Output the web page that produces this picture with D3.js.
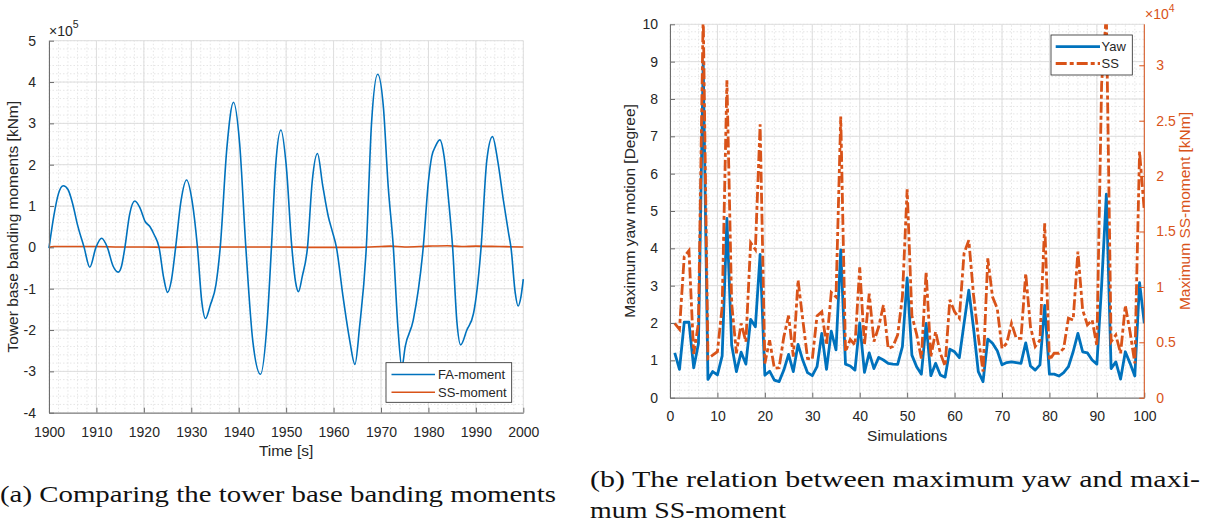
<!DOCTYPE html>
<html><head><meta charset="utf-8">
<script src="https://cdn.jsdelivr.net/npm/d3@7"></script>
<style>
body{margin:0;background:#fff}
svg text{font-family:"Liberation Sans",Arial,Helvetica,sans-serif}
</style>
</head><body>
<svg id="c" width="1211" height="529"></svg>
<script>
// ---------- Data: chart (a) ----------
const faTime = [1900,1901,1902,1903,1904,1905,1906,1907.4,1908.6,1909.9,1911.1,1912.3,1913.5,1914.6,1915.3,1916.0,1917,1918.1,1919.2,1920.3,1921.3,1922.2,1923.2,1924.2,1925.0,1925.8,1926.7,1927.8,1929.0,1930.2,1931.3,1932.2,1933.0,1934.0,1935.2,1936.1,1937.5,1938.9,1940.2,1941.5,1943.0,1944.6,1946.0,1946.9,1947.8,1948.9,1950.0,1951.2,1952.0,1952.6,1953.4,1954.5,1955.5,1956.6,1957.7,1958.9,1959.7,1960.6,1962.0,1963.4,1964.5,1965.5,1966.9,1968.0,1969.3,1970.5,1971.5,1972.6,1973.6,1974.4,1975.1,1976.8,1978.9,1980.0,1980.7,1981.5,1982.4,1983.3,1984.2,1985.1,1986.0,1986.8,1988.1,1989.5,1991.1,1992.3,1993.5,1994.6,1995.8,1996.9,1997.4,1998.3,1998.9,1999.5,2000];
const faMoment = [-0.02,0.75,1.3,1.49,1.4,1.05,0.55,0,-0.48,0,0.22,0,-0.45,-0.6,-0.45,0,0.8,1.12,0.95,0.62,0.5,0.3,0,-0.75,-1.09,-0.8,0,1.1,1.63,1.1,0,-1.3,-1.72,-1.4,-0.9,0,2.4,3.51,2.5,0,-2.3,-3.07,-1.8,0,2.0,2.84,2.0,0,-0.85,-1.07,-0.7,0,1.6,2.27,1.5,0.74,0.4,0,-1.2,-2.25,-2.83,-1.9,0,3.0,4.19,3.4,1.5,0,-2.0,-2.9,-2.4,-1.76,0,1.6,2.2,2.45,2.6,2.2,1.2,0,-1.8,-2.36,-2.0,-1.6,0,2.1,2.68,2.1,1.14,0.34,0,-1.1,-1.42,-1.2,-0.77];
const ssTime = [1900,1901,1905,1910,1915,1920,1925,1930,1935,1940,1945,1950,1955,1960,1965,1970,1972,1975,1980,1984,1987,1990,1995,2000];
const ssMoment = [0.0,0.02,0.02,0.02,0.01,0.01,0.0,0.01,0.01,0.01,0.01,0.01,0.0,0.0,0.0,0.02,0.03,0.01,0.03,0.04,0.02,0.03,0.02,0.01];
const timeTicks = [1900,1910,1920,1930,1940,1950,1960,1970,1980,1990,2000];
const momentTicks = [-4,-3,-2,-1,0,1,2,3,4,5];

// ---------- Data: chart (b) ----------
const simulations = [1,2,3,4,5,6,7,8,9,10,11,12,13,14,15,16,17,18,19,20,21,22,23,24,25,26,27,28,29,30,31,32,33,34,35,36,37,38,39,40,41,42,43,44,45,46,47,48,49,50,51,52,53,54,55,56,57,58,59,60,61,62,63,64,65,66,67,68,69,70,71,72,73,74,75,76,77,78,79,80,81,82,83,84,85,86,87,88,89,90,91,92,93,94,95,96,97,98,99,100];
const yawMax = [1.2,0.76,2.02,2.02,0.8,1.45,9.0,0.49,0.7,0.61,1.12,4.8,1.41,0.7,1.22,0.9,2.1,1.9,3.84,0.6,0.71,0.47,0.43,0.74,1.16,0.7,1.43,1.0,0.67,0.59,0.83,1.72,0.76,1.78,1.28,3.96,0.9,0.85,0.74,2.0,0.68,1.2,0.78,1.08,1.01,0.92,0.9,0.89,1.37,3.21,1.14,0.83,0.63,1.99,0.59,0.92,0.61,0.55,1.3,1.23,1.07,1.99,2.88,1.86,0.7,0.43,1.57,1.46,1.26,0.88,0.94,0.96,0.94,0.92,1.47,0.85,0.74,0.88,2.47,0.63,0.63,0.58,0.67,0.83,1.23,1.72,1.23,1.2,1.01,0.9,3.0,5.45,0.78,0.96,0.5,1.23,0.92,0.58,3.08,1.99];
const ssMax = [6700,6170,12740,13280,3940,6740,34700,3540,3840,4150,8220,28650,8530,4010,6710,5060,13990,13380,24670,3100,5190,2660,2700,5490,7410,3710,10620,7010,3540,3470,7380,7750,4750,9500,9100,25380,4150,5260,4750,11760,4750,9400,5060,6400,8360,4450,4620,5660,9100,18800,7410,5730,3540,11360,3710,5960,4010,2860,8830,7750,7180,13040,14220,9270,5490,2360,12570,9100,8050,4450,4920,6710,5360,5360,11220,6400,4620,5190,15740,3400,4010,4010,4450,7180,7010,13180,7920,6570,7010,4680,28310,34700,5060,5660,4010,8320,5930,3100,22210,16850];
const simTicks = [0,10,20,30,40,50,60,70,80,90,100];
const yawTicks = [0,1,2,3,4,5,6,7,8,9,10];
const ssTicks = [0,5000,10000,15000,20000,25000,30000];

// ---------- Styles ----------
const BLUE = "#0072BD", ORANGE = "#D95319", TXT = "#262626", AX = "#6e6e6e";
const MAJ = "#dedede", MIN = "#e6e6e6";
const svg = d3.select("#c");

function grid(g, x, y, xMinor, yMinor, xMajor, yMajor) {
  const [x0, x1] = x.range(), [y0, y1] = y.range();
  g.selectAll(".vmin").data(xMinor).join("line")
    .attr("x1", d => x(d)).attr("x2", d => x(d)).attr("y1", y0).attr("y2", y1)
    .attr("stroke", MIN).attr("stroke-dasharray", "1.5,2");
  g.selectAll(".hmin").data(yMinor).join("line")
    .attr("y1", d => y(d)).attr("y2", d => y(d)).attr("x1", x0).attr("x2", x1)
    .attr("stroke", MIN).attr("stroke-dasharray", "1.5,2");
  g.selectAll(".vmaj").data(xMajor).join("line")
    .attr("x1", d => x(d)).attr("x2", d => x(d)).attr("y1", y0).attr("y2", y1)
    .attr("stroke", MAJ);
  g.selectAll(".hmaj").data(yMajor).join("line")
    .attr("y1", d => y(d)).attr("y2", d => y(d)).attr("x1", x0).attr("x2", x1)
    .attr("stroke", MAJ);
}
function minorTicks(lo, hi, step) {
  const out = [];
  const n = Math.round((hi - lo) / step);
  for (let i = 0; i <= n; i++) out.push(+(lo + i * step).toFixed(6));
  return out;
}
function styleAxis(g, color) {
  g.select(".domain").attr("stroke", color || AX);
  g.selectAll(".tick line").attr("stroke", color || AX);
  g.selectAll(".tick text").attr("fill", color === ORANGE ? ORANGE : TXT).style("font-size", "14px");
}

// ================= Chart (a) =================
const xa = d3.scaleLinear([1900, 2000], [49, 523.3]);
const ya = d3.scaleLinear([-4, 5], [412.7, 40.7]);
const ga = svg.append("g");
grid(ga.append("g"), xa, ya, minorTicks(1900, 2000, 2), minorTicks(-4, 5, 0.2), timeTicks, momentTicks);

ga.append("path").datum(ssTime.map((t, i) => [t, ssMoment[i]]))
  .attr("fill", "none").attr("stroke", ORANGE).attr("stroke-width", 1.6)
  .attr("d", d3.line().x(d => xa(d[0])).y(d => ya(d[1])).curve(d3.curveMonotoneX));
ga.append("path").datum(faTime.map((t, i) => [t, faMoment[i]]))
  .attr("fill", "none").attr("stroke", BLUE).attr("stroke-width", 1.6)
  .attr("d", d3.line().x(d => xa(d[0])).y(d => ya(d[1])).curve(d3.curveMonotoneX));

const axA = ga.append("g").attr("transform", `translate(0,${ya(-4)})`)
  .call(d3.axisBottom(xa).tickValues(timeTicks).tickSizeInner(-5).tickSizeOuter(0).tickPadding(14).tickFormat(d => d));
styleAxis(axA);
const ayA = ga.append("g").attr("transform", `translate(${xa(1900)},0)`)
  .call(d3.axisLeft(ya).tickValues(momentTicks).tickSizeInner(-5).tickSizeOuter(0).tickPadding(13).tickFormat(d => String(d)));
styleAxis(ayA);

ga.append("text").attr("x", xa(1950)).attr("y", 456).attr("text-anchor", "middle")
  .attr("fill", TXT).style("font-size", "15.5px").text("Time [s]");
ga.append("text").attr("transform", `translate(18,${(ya(-4) + ya(5)) / 2}) rotate(-90)`)
  .attr("text-anchor", "middle").attr("fill", TXT).style("font-size", "15.5px")
  .text("Tower base banding moments [kNm]");
const expA = ga.append("text").attr("x", 49).attr("y", 36).attr("fill", TXT).style("font-size", "14px");
expA.append("tspan").text("\u00d710");
expA.append("tspan").attr("dy", -8).style("font-size", "10.5px").text("5");

// legend (a)
const lgA = ga.append("g");
lgA.append("rect").attr("x", 386).attr("y", 362.7).attr("width", 125.7).attr("height", 39.6)
  .attr("fill", "#fff").attr("stroke", TXT).attr("stroke-width", 0.8);
[["FA-moment", BLUE, 374.5], ["SS-moment", ORANGE, 392.3]].forEach(([name, col, yy]) => {
  lgA.append("line").attr("x1", 391.5).attr("x2", 435).attr("y1", yy).attr("y2", yy)
    .attr("stroke", col).attr("stroke-width", 1.6);
  lgA.append("text").attr("x", 438).attr("y", yy + 4.6).attr("fill", TXT).style("font-size", "13px").text(name);
});

// ================= Chart (b) =================
const xb = d3.scaleLinear([0, 100], [670, 1144.3]);
const yb = d3.scaleLinear([0, 10], [397.7, 24.3]);
const yr = d3.scaleLinear([0, 33700], [397.7, 24.3]);
const gb = svg.append("g");
grid(gb.append("g"), xb, yb, minorTicks(0, 100, 2), minorTicks(0, 10, 0.2), simTicks, yawTicks);

svg.append("clipPath").attr("id", "clipB").append("rect")
  .attr("x", 670).attr("y", 24.3).attr("width", 474.3).attr("height", 373.4);
const lines = gb.append("g").attr("clip-path", "url(#clipB)");
lines.append("path").datum(simulations.map((s, i) => [s, yawMax[i]]))
  .attr("fill", "none").attr("stroke", BLUE).attr("stroke-width", 2.8).attr("stroke-linejoin", "round")
  .attr("d", d3.line().x(d => xb(d[0])).y(d => yb(d[1])));
lines.append("path").datum(simulations.map((s, i) => [s, ssMax[i]]))
  .attr("fill", "none").attr("stroke", ORANGE).attr("stroke-width", 2.8)
  .attr("stroke-dasharray", "11,3,4,3")
  .attr("d", d3.line().x(d => xb(d[0])).y(d => yr(d[1])));

const axB = gb.append("g").attr("transform", `translate(0,${yb(0)})`)
  .call(d3.axisBottom(xb).tickValues(simTicks).tickSizeInner(-5).tickSizeOuter(0).tickPadding(13).tickFormat(d => d));
styleAxis(axB);
const ayB = gb.append("g").attr("transform", `translate(${xb(0)},0)`)
  .call(d3.axisLeft(yb).tickValues(yawTicks).tickSizeInner(-5).tickSizeOuter(0).tickPadding(12).tickFormat(d => String(d)));
styleAxis(ayB);
const ayR = gb.append("g").attr("transform", `translate(${xb(100)},0)`)
  .call(d3.axisRight(yr).tickValues(ssTicks).tickSizeInner(-5).tickSizeOuter(0).tickPadding(12).tickFormat(d => String(d / 10000)));
ayR.select(".domain").attr("stroke", ORANGE).attr("d", `M0,${yr.range()[0]}V${yr.range()[1]}`);
ayR.selectAll(".tick line").attr("stroke", ORANGE);
ayR.selectAll(".tick text").attr("fill", ORANGE).style("font-size", "14px");

gb.append("text").attr("x", xb(50)).attr("y", 441).attr("text-anchor", "middle")
  .attr("fill", TXT).style("font-size", "15.5px").text("Simulations");
gb.append("text").attr("transform", `translate(635,${(yb(0) + yb(10)) / 2}) rotate(-90)`)
  .attr("text-anchor", "middle").attr("fill", TXT).style("font-size", "15.5px")
  .text("Maximum yaw motion [Degree]");
gb.append("text").attr("transform", `translate(1190,${(yb(0) + yb(10)) / 2}) rotate(-90)`)
  .attr("text-anchor", "middle").attr("fill", ORANGE).style("font-size", "15.5px")
  .text("Maximum SS-moment [kNm]");
const expB = gb.append("text").attr("x", 1145).attr("y", 19).attr("fill", ORANGE).style("font-size", "14px");
expB.append("tspan").text("\u00d710");
expB.append("tspan").attr("dy", -7).style("font-size", "10.5px").text("4");

// legend (b)
const lgB = gb.append("g");
lgB.append("rect").attr("x", 1051).attr("y", 35).attr("width", 81.3).attr("height", 40)
  .attr("fill", "#fff").attr("stroke", TXT).attr("stroke-width", 0.8);
lgB.append("line").attr("x1", 1055.7).attr("x2", 1100).attr("y1", 46.7).attr("y2", 46.7)
  .attr("stroke", BLUE).attr("stroke-width", 2.8);
lgB.append("line").attr("x1", 1055.7).attr("x2", 1100).attr("y1", 63.5).attr("y2", 63.5)
  .attr("stroke", ORANGE).attr("stroke-width", 2.8).attr("stroke-dasharray", "11,3,4,3");
lgB.append("text").attr("x", 1101.5).attr("y", 51.3).attr("fill", TXT).style("font-size", "13px").text("Yaw");
lgB.append("text").attr("x", 1101.5).attr("y", 68).attr("fill", TXT).style("font-size", "13px").text("SS");

// ================= Captions =================
const capFont = '"Liberation Serif","Times New Roman",serif';
svg.append("text").attr("x", 0).attr("y", 502).style("font-family", capFont).style("font-size", "23px")
  .attr("fill", "#111").attr("textLength", 556).attr("lengthAdjust", "spacingAndGlyphs")
  .text("(a) Comparing the tower base banding moments");
svg.append("text").attr("x", 590).attr("y", 487).style("font-family", capFont).style("font-size", "23px")
  .attr("fill", "#111").attr("textLength", 610).attr("lengthAdjust", "spacingAndGlyphs")
  .text("(b) The relation between maximum yaw and maxi-");
svg.append("text").attr("x", 590).attr("y", 518).style("font-family", capFont).style("font-size", "23px")
  .attr("fill", "#111").attr("textLength", 196).attr("lengthAdjust", "spacingAndGlyphs")
  .text("mum SS-moment");
</script>
</body></html>
